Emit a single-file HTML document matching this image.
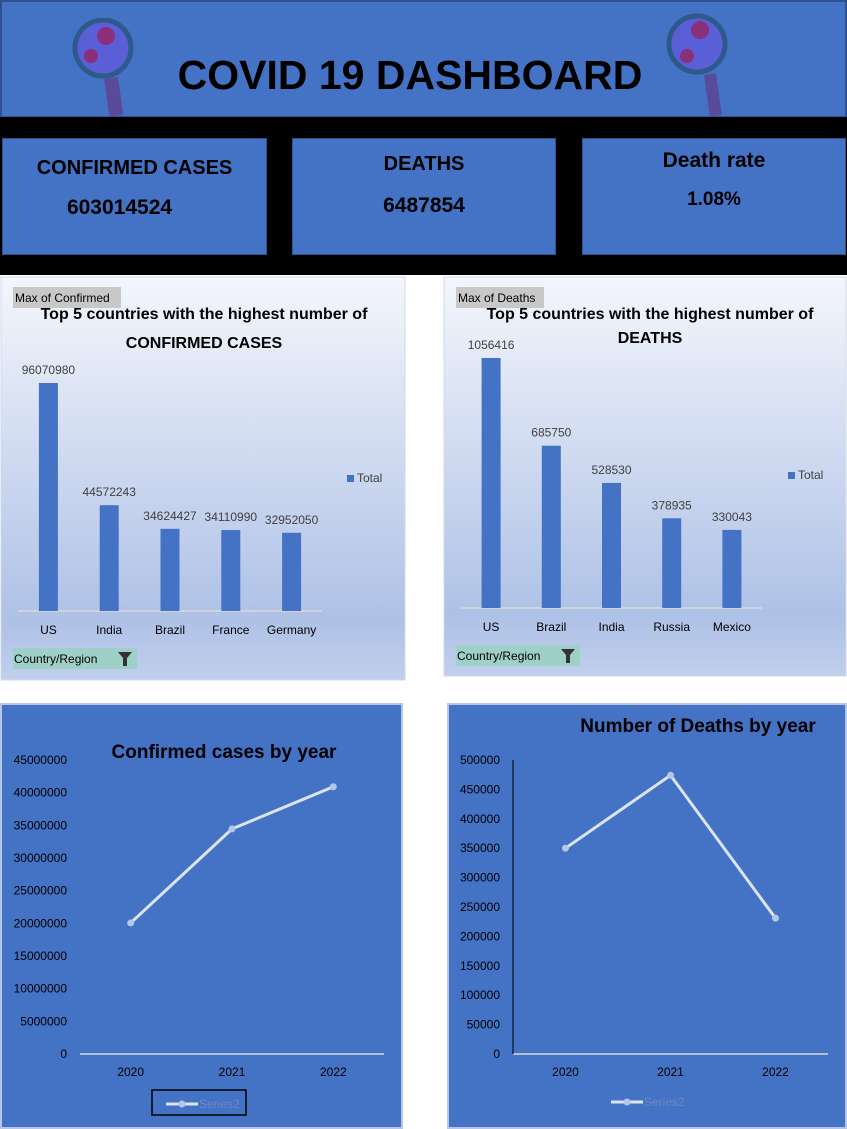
<!DOCTYPE html>
<html><head><meta charset="utf-8"><style>
html,body{margin:0;padding:0;background:#fff;width:847px;height:1129px;overflow:hidden;font-family:"Liberation Sans",sans-serif}
.abs{position:absolute}
.card{position:absolute;background:#4472c4;box-sizing:border-box;border:1px solid #2f528f;text-align:center;font-weight:bold;color:#000;font-family:"Liberation Sans",sans-serif}
</style></head><body>
<div class="abs" style="left:0;top:0;width:847px;height:118px;background:#4472c4;border:2px solid #2f528f;box-sizing:border-box"></div>
<div class="abs" style="left:150px;top:52px;width:520px;text-align:center;font-size:41px;font-weight:bold;font-family:'Liberation Sans',sans-serif">COVID 19 DASHBOARD</div>
<svg class="abs" style="left:66px;top:18px" width="70" height="100"><circle cx="37" cy="30" r="28" fill="#5a5fd8" stroke="#2d5a8a" stroke-width="5"/><circle cx="40" cy="18" r="9" fill="#8a2f7a"/><circle cx="25" cy="38" r="7" fill="#8a2f7a"/><rect x="38" y="60" width="14" height="38" fill="#5a4a9a" transform="rotate(-8 45 60)"/></svg>
<svg class="abs" style="left:662px;top:12px" width="70" height="106"><circle cx="35" cy="32" r="28" fill="#5a5fd8" stroke="#2d5a8a" stroke-width="5"/><circle cx="38" cy="18" r="9" fill="#8a2f7a"/><circle cx="25" cy="44" r="7" fill="#8a2f7a"/><rect x="42" y="62" width="12" height="42" fill="#5a4a9a" transform="rotate(-8 48 62)"/></svg>
<div class="abs" style="left:0;top:117px;width:847px;height:158px;background:#000"></div>
<div class="card" style="left:2px;top:138px;width:265px;height:117px"><div style="margin-top:18px;font-size:20px">CONFIRMED CASES</div><div style="margin-top:16px;font-size:21px;margin-right:30px">603014524</div></div>
<div class="card" style="left:292px;top:138px;width:264px;height:117px"><div style="margin-top:14px;font-size:20px">DEATHS</div><div style="margin-top:18px;font-size:21px">6487854</div></div>
<div class="card" style="left:582px;top:138px;width:264px;height:117px"><div style="margin-top:10px;font-size:21px">Death rate</div><div style="margin-top:16px;font-size:19px">1.08%</div></div>

<svg class="abs" id="charts" style="left:0;top:0" width="847" height="1129">
<defs><linearGradient id="g1" x1="0" y1="0" x2="0" y2="1"><stop offset="0" stop-color="#f4f6fc"/><stop offset="0.85" stop-color="#aec1e6"/><stop offset="1" stop-color="#c0cfec"/></linearGradient></defs>
</svg>
<script>
const confCats=["US","India","Brazil","France","Germany"];
const confVals=[96070980,44572243,34624427,34110990,32952050];
const deathCats=["US","Brazil","India","Russia","Mexico"];
const deathVals=[1056416,685750,528530,378935,330043];
const years=["2020","2021","2022"];
const confByYear=[20060000,34450000,40900000];
const deathByYear=[350000,474000,231000];
const confTicks=[0,5000000,10000000,15000000,20000000,25000000,30000000,35000000,40000000,45000000];
const deathTicks=[0,50000,100000,150000,200000,250000,300000,350000,400000,450000,500000];

const svg=document.getElementById('charts');
const NS='http://www.w3.org/2000/svg';
function mk(tag,attrs,text){const e=document.createElementNS(NS,tag);for(const k in attrs)e.setAttribute(k,attrs[k]);if(text!==undefined)e.textContent=text;svg.appendChild(e);return e;}
const F='"Liberation Sans",sans-serif';

function barChart(o){
  let r=mk('rect',{x:o.x,y:o.y,width:o.w,height:o.h,fill:'url(#g1)',stroke:'#d0d8ea'});
  
  
  let b=mk('rect',{x:o.x+12,y:o.y+10,width:o.fw,height:21,fill:'#c8c8c8'});
  
  
  let t=mk('text',{x:o.x+14,y:o.y+25,'font-size':12,'font-family':F,fill:'#000'},o.field);
  
  
  let t1=mk('text',{x:o.tx,y:o.y+42,'font-size':16,'font-weight':'bold','text-anchor':'middle','font-family':F},'Top 5 countries with the highest number of');
  
  
  let t2=mk('text',{x:o.tx,y:o.t2y,'font-size':16,'font-weight':'bold','text-anchor':'middle','font-family':F},o.sub);
  
  
  const ax=mk('line',{x1:o.ax0,x2:o.ax1,y1:o.base,y2:o.base,stroke:'#d9d9d9','stroke-width':1.5});
  
  
  const step=(o.ax1-o.ax0)/o.cats.length;
  const yS=v=>o.base-v/o.max*o.ph;
  o.cats.forEach((c,i)=>{
    const cx=o.ax0+step*(i+0.5);
    const bar=mk('rect',{x:cx-9.5,y:yS(o.vals[i]),width:19,height:o.base-yS(o.vals[i]),fill:'#4472c4'});
    
    
    const lab=mk('text',{x:cx,y:yS(o.vals[i])-9,'font-size':12,'text-anchor':'middle','font-family':F,fill:'#404040'},String(o.vals[i]));
    
    
    const cl=mk('text',{x:cx,y:o.base+23,'font-size':12,'text-anchor':'middle','font-family':F,fill:'#000'},c);
    
    
  });
  const lg=mk('rect',{x:o.lx,y:o.ly-7,width:7,height:7,fill:'#4472c4'});
  
  
  const lt=mk('text',{x:o.lx+10,y:o.ly,'font-size':12,'font-family':F,fill:'#404040'},'Total');
  
  
  const fb=mk('rect',{x:o.x+12,y:o.fy,width:124,height:21,fill:'#9fd0c8'});
  
  
  const ft=mk('text',{x:o.x+13,y:o.fy+15,'font-size':12,'font-family':F},'Country/Region');
  
  
  const fi=mk('path',{d:`M${o.x+117} ${o.fy+4}h14l-5 6v8h-4v-8z`,fill:'#333'});
  
  
}
barChart({key:'confirmed',x:1,y:277,w:404,h:403,field:'Max of Confirmed',fw:108,tx:204,sub:'CONFIRMED CASES',t2y:348,ax0:18,ax1:322,base:611,cats:confCats,vals:confVals,max:96070980,ph:228,lx:347,ly:482,fy:648});
barChart({key:'deaths',x:444,y:277,w:402,h:399,field:'Max of Deaths',fw:88,tx:650,sub:'DEATHS',t2y:343,ax0:461,ax1:762,base:608,cats:deathCats,vals:deathVals,max:1056416,ph:250,lx:788,ly:479,fy:645});

function lineChart(o){
  const r=mk('rect',{x:o.x,y:o.y,width:o.w,height:o.h,fill:'#4472c4',stroke:'#b4c7e7','stroke-width':2});
  
  
  const t=mk('text',{x:o.tx,y:o.ty,'font-size':19,'font-weight':'bold','text-anchor':'middle','font-family':F},o.title);
  
  
  const yS=v=>o.base-v/o.max*o.ph;
  o.ticks.forEach(v=>{
    const tl=mk('text',{x:o.tlx,y:yS(v)+4,'font-size':12,'text-anchor':'end','font-family':F,fill:'#000'},String(v));
    
    
  });
  const ax=mk('line',{x1:o.ax0,x2:o.ax1,y1:o.base,y2:o.base,stroke:'#d9d9d9','stroke-width':1.5});
  
  
  if(o.yaxis){const ya=mk('line',{x1:o.ax0,x2:o.ax0,y1:o.base,y2:o.base-o.ph,stroke:'#000','stroke-width':1});
    
    }
  const step=(o.ax1-o.ax0)/years.length;
  const xs=years.map((y,i)=>o.ax0+step*(i+0.5));
  const pts=o.vals.map((v,i)=>xs[i]+','+yS(v)).join(' ');
  const pl=mk('polyline',{points:pts,fill:'none',stroke:'#dce3f2','stroke-width':3});
  
  
  o.vals.forEach((v,i)=>{
    const c=mk('circle',{cx:xs[i],cy:yS(v),r:3.5,fill:'#b4c7e7'});
    
    
    const xl=mk('text',{x:xs[i],y:o.base+22,'font-size':12,'text-anchor':'middle','font-family':F},years[i]);
    
    
  });
  if(o.legBox){const lb=mk('rect',{x:o.lgx-14,y:o.lgy-14,width:94,height:25,fill:'none',stroke:'#000','stroke-width':1.5});
    
    }
  const ll=mk('line',{x1:o.lgx,x2:o.lgx+32,y1:o.lgy,y2:o.lgy,stroke:'#dce3f2','stroke-width':3});
  
  
  const lc=mk('circle',{cx:o.lgx+16,cy:o.lgy,r:3.5,fill:'#b4c7e7'});
  
  
  const lt=mk('text',{x:o.lgx+33,y:o.lgy+4,'font-size':12,'font-family':F,fill:'#7088c0'},'Series2');
  
  
}
lineChart({key:'confirmed',x:1,y:704,w:401,h:424,title:'Confirmed cases by year',tx:224,ty:758,ticks:confTicks,max:45000000,ph:294,base:1054,tlx:67,ax0:80,ax1:384,vals:confByYear,lgx:166,lgy:1104,legBox:true});
lineChart({key:'deaths',x:448,y:704,w:398,h:424,title:'Number of Deaths by year',tx:698,ty:732,ticks:deathTicks,max:500000,ph:294,base:1054,tlx:500,ax0:513,ax1:828,vals:deathByYear,lgx:611,lgy:1102,legBox:false,yaxis:true});
</script>
</body></html>
